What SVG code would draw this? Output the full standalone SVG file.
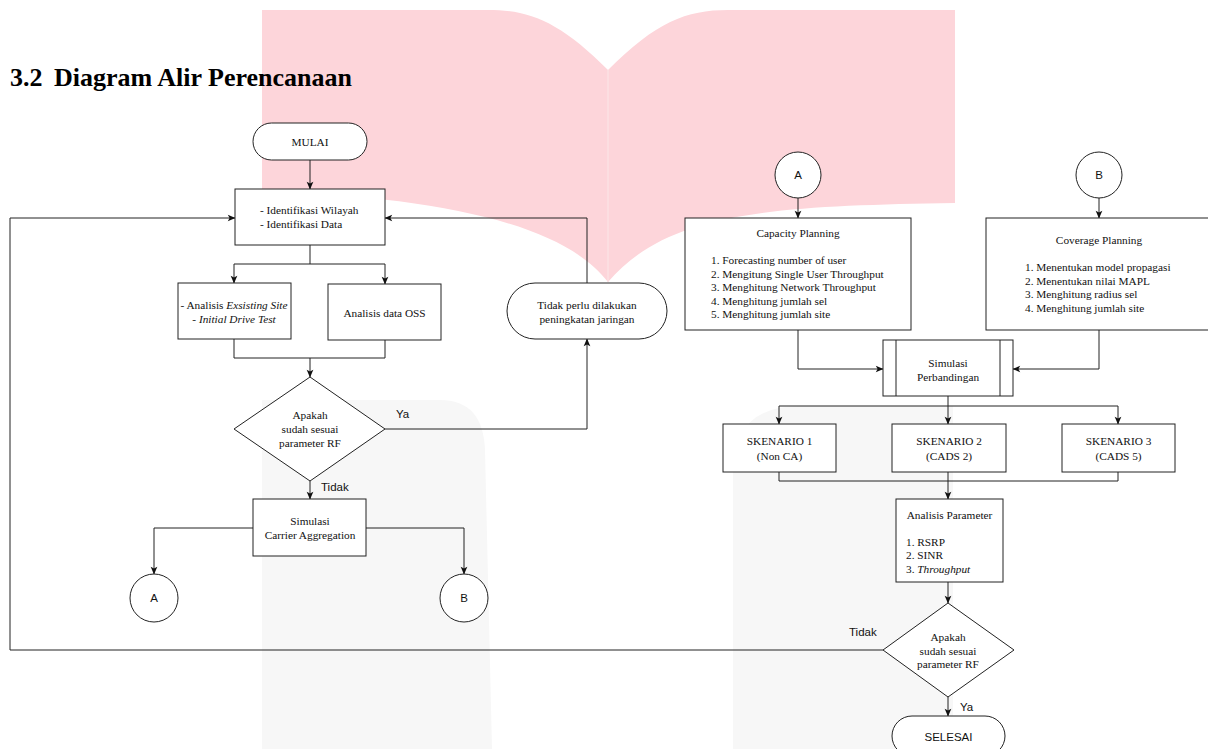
<svg xmlns="http://www.w3.org/2000/svg" width="1208" height="749" viewBox="0 0 1208 749">
<style>
.bg{fill:#ffffff}
.pink{fill:#fdd5da}
.gray{fill:#f7f7f7}
.n{fill:#ffffff;stroke:#222;stroke-width:1}
.c{fill:none;stroke:#222;stroke-width:1}
.t{font-family:"Liberation Serif","Times New Roman",serif;font-size:11.3px;fill:#111}
.m{text-anchor:middle}
.s{font-family:"Liberation Sans",Arial,sans-serif;font-size:11.5px;fill:#111}
.i{font-style:italic}
.title{font-family:"Liberation Serif","Times New Roman",serif;font-size:26px;font-weight:bold;fill:#000}
</style>
<defs>
<marker id="arr" viewBox="0 0 10 10" refX="9" refY="5" markerWidth="9" markerHeight="9" markerUnits="userSpaceOnUse" orient="auto">
<path d="M1,1.3 L9.5,5 L1,8.7 L3,5 Z" fill="#111"/>
</marker>
</defs>
<rect class="bg" x="0" y="0" width="1208" height="749"/>
<g id="watermark">
<path class="gray" d="M262,400 L440,400 Q483,400 485,450 L492,749 L262,749 Z"/>
<path class="gray" d="M733,749 L733,468 Q735,406 800,406 L953,406 L953,749 Z"/>
<path class="pink" d="M262,10 L488,10 C530,10 560,22 608,70 C656,22 686,10 728,10 L955,10 L955,203 C770,206 668,212 608,282 C560,220 430,198 262,190 Z"/>
<line x1="608" y1="70" x2="608" y2="282" stroke="#fbe0e3" stroke-width="1.5"/>
</g>
<text class="title" x="10" y="86">3.2</text>
<text class="title" x="54" y="86">Diagram Alir Perencanaan</text>

<g id="connectors">
<path class="c" d="M310,160 L310,189" marker-end="url(#arr)"/>
<path class="c" d="M310,245 L310,264 L234,264 L234,283" marker-end="url(#arr)"/>
<path class="c" d="M310,264 L385,264 L385,284" marker-end="url(#arr)"/>
<path class="c" d="M234,339 L234,358 L385,358 L385,340"/>
<path class="c" d="M310,358 L310,377" marker-end="url(#arr)"/>
<path class="c" d="M385,429 L587,429 L587,339" marker-end="url(#arr)"/>
<path class="c" d="M587,283 L587,218 L385,218" marker-end="url(#arr)"/>
<path class="c" d="M310,481 L310,499" marker-end="url(#arr)"/>
<path class="c" d="M253,528 L154,528 L154,574" marker-end="url(#arr)"/>
<path class="c" d="M366,528 L464,528 L464,574" marker-end="url(#arr)"/>
<path class="c" d="M798,198 L798,218" marker-end="url(#arr)"/>
<path class="c" d="M1099,198 L1099,218" marker-end="url(#arr)"/>
<path class="c" d="M798,330 L798,369 L883,369" marker-end="url(#arr)"/>
<path class="c" d="M1099,330 L1099,369 L1013,369" marker-end="url(#arr)"/>
<path class="c" d="M948,396 L948,424" marker-end="url(#arr)"/>
<path class="c" d="M779,406 L1118,406 L1118,424" marker-end="url(#arr)"/>
<path class="c" d="M779,406 L779,424" marker-end="url(#arr)"/>
<path class="c" d="M779,472 L779,481 L1118,481 L1118,472"/>
<path class="c" d="M948,472 L948,499" marker-end="url(#arr)"/>
<path class="c" d="M948,582 L948,603" marker-end="url(#arr)"/>
<path class="c" d="M883,650 L10,650 L10,218 L235,218" marker-end="url(#arr)"/>
<path class="c" d="M948,697 L948,716" marker-end="url(#arr)"/>
</g>

<g id="mulai">
<rect class="n" x="253" y="123" width="114" height="37" rx="18.5"/>
<text class="t m" x="310" y="146">MULAI</text>
</g>
<g id="identifikasi">
<rect class="n" x="235" y="189" width="150" height="56"/>
<text class="t" x="260" y="214">- Identifikasi Wilayah</text>
<text class="t" x="260" y="228">- Identifikasi Data</text>
</g>
<g id="existing">
<rect class="n" x="178" y="283" width="113" height="56"/>
<text class="t m" x="234" y="309">- Analisis <tspan class="i">Exsisting Site</tspan></text>
<text class="t m" x="234" y="323">- <tspan class="i">Initial Drive Test</tspan></text>
</g>
<g id="oss">
<rect class="n" x="328" y="284" width="113" height="56"/>
<text class="t m" x="384.5" y="317">Analisis data OSS</text>
</g>
<g id="decision1">
<polygon class="n" points="310,377 385,429 310,481 234,429"/>
<text class="t m" x="310" y="419">Apakah</text>
<text class="t m" x="310" y="433">sudah sesuai</text>
<text class="t m" x="310" y="447">parameter RF</text>
</g>
<text class="s" x="396" y="418">Ya</text>
<text class="s" x="321" y="491">Tidak</text>
<g id="tidakperlu">
<rect class="n" x="507" y="283" width="160" height="56" rx="28"/>
<text class="t m" x="587" y="309">Tidak perlu dilakukan</text>
<text class="t m" x="587" y="323">peningkatan jaringan</text>
</g>
<g id="simca">
<rect class="n" x="253" y="499" width="113" height="57"/>
<text class="t m" x="310" y="525">Simulasi</text>
<text class="t m" x="310" y="539">Carrier Aggregation</text>
</g>
<g id="a-left">
<circle class="n" cx="154" cy="598" r="24"/>
<text class="s m" x="154" y="602">A</text>
</g>
<g id="b-left">
<circle class="n" cx="464" cy="598" r="24"/>
<text class="s m" x="464" y="602">B</text>
</g>
<g id="a-right">
<circle class="n" cx="798" cy="175" r="23"/>
<text class="s m" x="798" y="179">A</text>
</g>
<g id="b-right">
<circle class="n" cx="1099" cy="175" r="23"/>
<text class="s m" x="1099" y="179">B</text>
</g>
<g id="capacity">
<rect class="n" x="685" y="218" width="226" height="112"/>
<text class="t m" x="798" y="237">Capacity Planning</text>
<text class="t" x="711" y="264">1. Forecasting number of user</text>
<text class="t" x="711" y="277.5">2. Mengitung Single User Throughput</text>
<text class="t" x="711" y="291">3. Menghitung Network Throughput</text>
<text class="t" x="711" y="304.5">4. Menghitung jumlah sel</text>
<text class="t" x="711" y="318">5. Menghitung jumlah site</text>
</g>
<g id="coverage">
<rect class="n" x="986" y="218" width="226" height="112"/>
<text class="t m" x="1099" y="244">Coverage Planning</text>
<text class="t" x="1025" y="271">1. Menentukan model propagasi</text>
<text class="t" x="1025" y="284.5">2. Menentukan nilai MAPL</text>
<text class="t" x="1025" y="298">3. Menghitung radius sel</text>
<text class="t" x="1025" y="311.5">4. Menghitung jumlah site</text>
</g>
<g id="perbandingan">
<rect class="n" x="883" y="340" width="130" height="56"/>
<line class="c" x1="896" y1="340" x2="896" y2="396"/>
<line class="c" x1="1000" y1="340" x2="1000" y2="396"/>
<text class="t m" x="948" y="367">Simulasi</text>
<text class="t m" x="948" y="381">Perbandingan</text>
</g>
<g id="skenario1">
<rect class="n" x="723" y="424" width="113" height="48"/>
<text class="t m" x="779.5" y="445">SKENARIO 1</text>
<text class="t m" x="779.5" y="459.5">(Non CA)</text>
</g>
<g id="skenario2">
<rect class="n" x="892" y="424" width="114" height="48"/>
<text class="t m" x="949" y="445">SKENARIO 2</text>
<text class="t m" x="949" y="459.5">(CADS 2)</text>
</g>
<g id="skenario3">
<rect class="n" x="1062" y="424" width="113" height="48"/>
<text class="t m" x="1118.5" y="445">SKENARIO 3</text>
<text class="t m" x="1118.5" y="459.5">(CADS 5)</text>
</g>
<g id="analisis">
<rect class="n" x="896" y="499" width="107" height="83"/>
<text class="t m" x="949.5" y="519">Analisis Parameter</text>
<text class="t" x="906" y="546">1. RSRP</text>
<text class="t" x="906" y="559">2. SINR</text>
<text class="t" x="906" y="573">3. <tspan class="i">Throughput</tspan></text>
</g>
<g id="decision2">
<polygon class="n" points="948,603 1014,650 948,697 883,650"/>
<text class="t m" x="948" y="641">Apakah</text>
<text class="t m" x="948" y="655">sudah sesuai</text>
<text class="t m" x="948" y="668">parameter RF</text>
</g>
<text class="s" x="849" y="636">Tidak</text>
<text class="s" x="960" y="711">Ya</text>
<g id="selesai">
<rect class="n" x="892" y="716" width="113" height="40" rx="20"/>
<text class="s m" x="948.5" y="741">SELESAI</text>
</g>
</svg>
